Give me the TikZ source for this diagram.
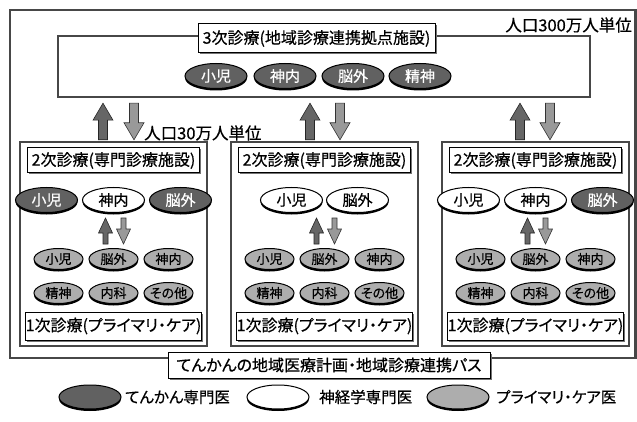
\documentclass[tikz,border=0pt]{standalone}
\usepackage{fontspec}
\setmainfont{Noto Sans CJK JP}[RawFeature=+palt, FakeBold=0.5]
\usetikzlibrary{shapes.geometric,shadows,calc}
\newcommand\blockarr[7]{% style, tail, tip, dir(+1 up/-1 down), half shaft, half head, head length
  \path[#1] let \p1=#2, \p2=#3 in
    (\x1-#5,\y1) -- (\x1-#5,\y2-#4*#7) -- (\x1-#6,\y2-#4*#7) -- (\x1,\y2)
    -- (\x1+#6,\y2-#4*#7) -- (\x1+#5,\y2-#4*#7) -- (\x1+#5,\y1) -- cycle;}
\tikzset{
 tierbox/.style={rectangle, draw=black!72, line width=2.4pt, fill=white, inner sep=0pt,
   drop shadow={shadow xshift=1.4pt, shadow yshift=-1.4pt, fill=black, opacity=1}},
 titlebox/.style={rectangle, draw=black, line width=1pt, fill=white, inner sep=0pt,
   font=\fontsize{16}{18}\selectfont,
   drop shadow={shadow xshift=1.5pt, shadow yshift=-1.5pt, fill=black!55, opacity=1}},
 oval/.style={ellipse, draw=black, line width=1pt, inner sep=0pt, minimum width=62pt,
   minimum height=25pt, font=\fontsize{15}{16}\selectfont,
   drop shadow={shadow xshift=0pt, shadow yshift=-2pt, fill=black, opacity=1}},
 epi/.style={oval, fill=black!62, text=white},
 neuro/.style={oval, fill=white},
 pc/.style={oval, fill=black!32},
 small/.style={minimum width=49pt, minimum height=21pt, inner xsep=-3pt,
   font=\fontsize{13}{14}\selectfont},
 lbl/.style={inner sep=0pt, font=\fontsize{16.5}{18}\selectfont},
 legtext/.style={inner sep=0pt, anchor=west, font=\fontsize{15.5}{18}\selectfont},
 uparr/.style={fill=black!60, draw=black!85, line width=0.6pt},
 dnarr/.style={fill=black!40, draw=black!80, line width=0.6pt},
}
\begin{document}
\begin{tikzpicture}[x=1pt,y=1pt]
\useasboundingbox (0,0) rectangle (637,421);
% outer frame
\node[tierbox, minimum width=625.5pt, minimum height=348pt] (outer) at (322.75,237) {};
\node[lbl, anchor=east] (pop3) at (632,396) {人口300万人単位};
% third tier
\node[tierbox, minimum width=532pt, minimum height=61pt] (T) at (324,354.5) {};
\node[titlebox, minimum width=237pt, minimum height=29pt] (Tt) at (316.5,382.5) {3次診療(地域診療連携拠点施設)};
\node[epi] (T1) at (216,345) {小児};
\node[epi] (T2) at (285,345) {神内};
\node[epi] (T3) at (353,345) {脳外};
\node[epi] (T4) at (420,345) {精神};
\node[lbl, anchor=west] (pop2) at (144,288) {人口30万人単位};
% second tier boxes
\foreach \bx/\cx in {L/113.5, M/324.5, R/535.5}{
  \node[tierbox, minimum width=187pt, minimum height=204pt] (\bx) at (\cx,177) {};
  \node[titlebox, minimum width=172pt, minimum height=25pt] (\bx t) at (\cx,260.5) {2次診療(専門診療施設)};
  \node[pc, small] (\bx a) at (\cx-55,162) {小児};
  \node[pc, small] (\bx b) at (\cx,162) {脳外};
  \node[pc, small] (\bx c) at (\cx+55,162) {神内};
  \node[pc, small] (\bx d) at (\cx-55,128) {精神};
  \node[pc, small] (\bx e) at (\cx,128) {内科};
  \node[pc, small] (\bx f) at (\cx+55,128) {その他};
  \node[titlebox, minimum width=171pt, minimum height=28pt] (\bx p) at (\cx,95) {1次診療(プライマリ・ケア)};
  \blockarr{uparr}{($(\bx b.north)+(-8,4)$)}{($(\bx b.north)+(-8,30)$)}{1}{2.5pt}{7pt}{15pt}
  \blockarr{dnarr}{($(\bx b.north)+(10,30)$)}{($(\bx b.north)+(10,4)$)}{-1}{2.5pt}{7pt}{15pt}
}
% first-row ovals in second tier
\node[epi] (L1) at (46.5,221) {小児};
\node[neuro] (L2) at (113.5,221) {神内};
\node[epi] (L3) at (180.5,221) {脳外};
\node[neuro] (M1) at (291.5,221) {小児};
\node[neuro] (M2) at (357.5,221) {脳外};
\node[neuro] (R1) at (468.5,221) {小児};
\node[neuro] (R2) at (535.5,221) {神内};
\node[epi] (R3) at (602.5,221) {脳外};
% big arrows between tiers
\blockarr{uparr}{($(103,0 |- L.north)+(0,1)$)}{($(103,0 |- T.south)+(0,-5)$)}{1}{4.5pt}{10pt}{17pt}
\blockarr{dnarr}{($(134,0 |- T.south)+(0,-5)$)}{($(134,0 |- L.north)+(0,1)$)}{-1}{4.5pt}{10pt}{17pt}
\blockarr{uparr}{($(310,0 |- M.north)+(0,1)$)}{($(310,0 |- T.south)+(0,-5)$)}{1}{4.5pt}{10pt}{17pt}
\blockarr{dnarr}{($(340,0 |- T.south)+(0,-5)$)}{($(340,0 |- M.north)+(0,1)$)}{-1}{4.5pt}{10pt}{17pt}
\blockarr{uparr}{($(520,0 |- R.north)+(0,1)$)}{($(520,0 |- T.south)+(0,-5)$)}{1}{4.5pt}{10pt}{17pt}
\blockarr{dnarr}{($(550,0 |- T.south)+(0,-5)$)}{($(550,0 |- R.north)+(0,1)$)}{-1}{4.5pt}{10pt}{17pt}
% bottom label
\node[titlebox, minimum width=322pt, minimum height=26pt] (P) at (329,56) {てんかんの地域医療計画・地域診療連携パス};
% legend
\node[epi, minimum height=24pt] (k1) at (90,24) {};
\node[legtext] (k1t) at (125,24) {てんかん専門医};
\node[neuro, minimum height=24pt] (k2) at (278,24) {};
\node[legtext] (k2t) at (319,24) {神経学専門医};
\node[pc, minimum height=24pt] (k3) at (458,24) {};
\node[legtext] (k3t) at (496,24) {プライマリ・ケア医};
\end{tikzpicture}
\end{document}
